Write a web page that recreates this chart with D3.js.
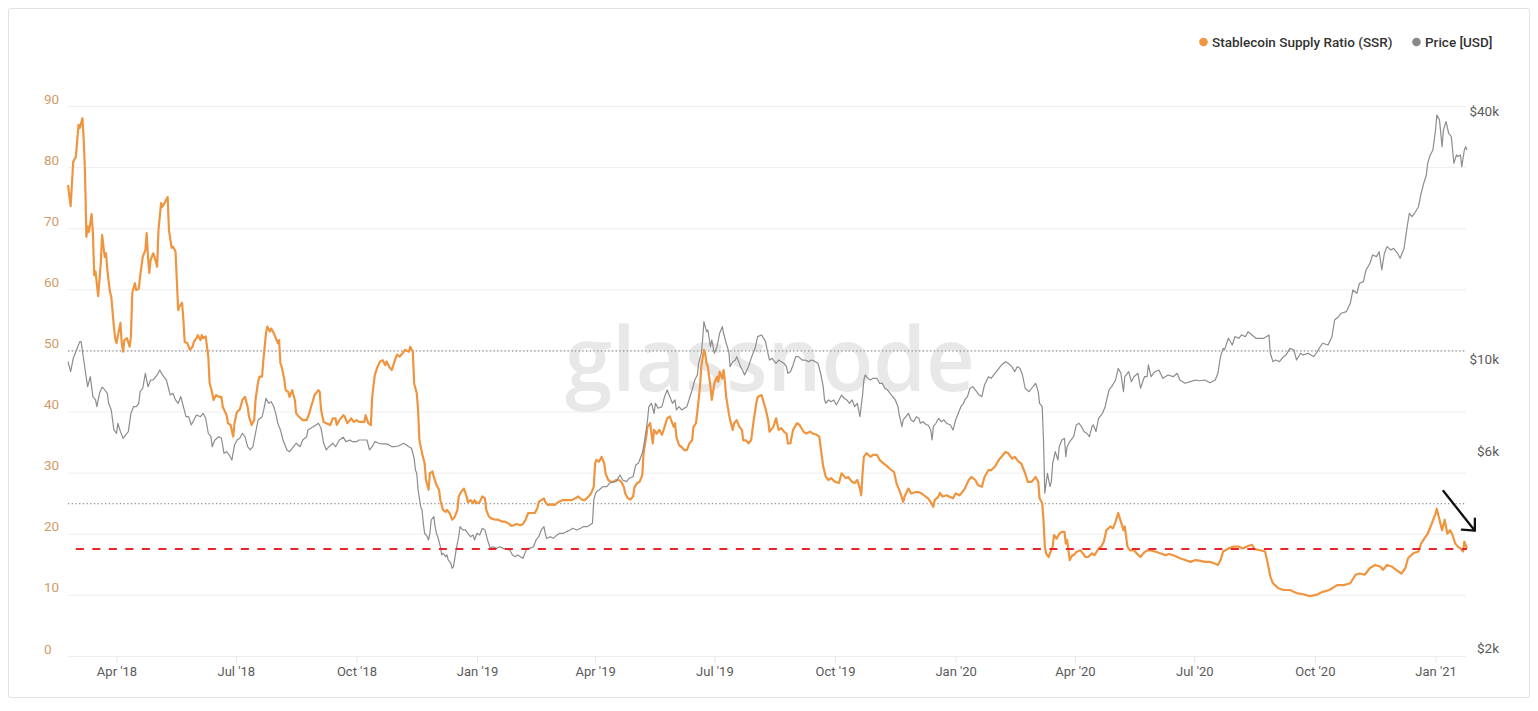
<!DOCTYPE html>
<html><head><meta charset="utf-8">
<script src="https://cdn.jsdelivr.net/npm/d3@7"></script>
<style>html,body{margin:0;padding:0;background:#fff;}svg{display:block;}</style>
</head><body>
<svg id="chart" width="1538" height="711"></svg>
<script>
// Days are counted from 23 Feb 2018 (UTC), as read against the chart's time axis
const startDateUTC = Date.UTC(2018, 1, 23);
const endDay = 1067;

// Stablecoin Supply Ratio: [day, value]
const ssrSeries = [[0,77.1],[2,73.6],[4,80.9],[6,81.7],[8,86.9],[9,86.4],[11,88.0],[12,84.4],[13,79.0],[14,68.6],[15,70.3],[16,69.4],[18,72.3],[19,69.2],[20,62.3],[21,62.9],[23,58.9],[25,64.3],[26,68.9],[28,65.3],[29,65.9],[30,63.2],[32,59.6],[33,58.8],[35,53.9],[36,52.0],[37,51.2],[38,52.3],[40,54.5],[41,51.2],[42,49.8],[43,51.7],[45,52.0],[47,50.6],[48,52.3],[49,59.4],[51,61.0],[52,59.9],[54,60.1],[55,62.1],[57,65.3],[59,66.4],[60,69.2],[61,65.3],[62,62.7],[63,64.8],[65,65.9],[66,65.3],[68,63.7],[69,69.7],[71,74.1],[72,73.5],[74,74.3],[76,75.1],[77,69.7],[79,66.8],[80,67.0],[82,66.2],[83,61.5],[84,56.6],[85,57.2],[87,57.8],[88,55.0],[89,51.4],
[91,51.2],[93,50.1],[95,50.6],[96,51.4],[98,52.0],[99,52.5],[101,51.7],[102,52.5],[103,52.0],[105,52.3],[107,49.0],[108,44.7],[110,43.0],[111,41.9],[113,42.7],[115,42.4],[117,42.4],[118,40.8],[121,39.4],[122,38.1],[124,37.8],[126,35.9],[127,38.1],[128,39.2],[129,40.0],[131,40.3],[133,41.9],[135,42.4],[137,40.8],[138,39.2],[140,37.8],[142,38.6],[143,41.9],[145,44.9],[146,45.7],[148,45.7],[149,48.4],[151,52.8],[152,53.9],[154,53.1],[155,53.6],[157,52.8],[158,52.3],[160,51.2],[161,51.7],[162,47.9],[163,47.3],[165,45.2],[166,43.5],[168,43.2],[169,42.4],[171,43.5],[173,41.9],[174,39.7],[176,39.2],[179,38.6],[182,38.6],[184,39.7],[185,40.5],[187,41.9],[188,42.7],[191,43.5],[192,43.2],[193,40.3],[195,38.3],[197,38.1],[200,37.8],[202,38.9],[204,38.9],[205,37.8],[207,38.6],[210,39.4],[211,39.2],[213,38.1],[215,38.6],[216,38.9],[218,38.3],[220,38.6],[222,38.3],[224,38.3],[226,38.3],[227,39.4],[229,38.1],[231,37.8],[232,42.4],[234,46.0],[236,47.3],[238,48.2],[240,48.4],[242,47.6],[243,48.2],[245,47.3],[247,46.8],[249,48.2],[251,49.3],[253,49.0],[255,49.5],[257,50.1],[260,49.8],[261,50.6],[263,49.8],[264,44.6],[266,43.0],[267,40.3],[268,35.3],[270,33.2],[272,31.5],
[273,28.8],[275,27.2],[276,29.9],[278,30.2],[279,29.3],[281,28.0],[283,27.2],[284,25.5],[286,23.9],[288,23.6],[289,23.9],[291,23.4],[293,22.3],[295,22.8],[297,23.9],[298,26.1],[300,26.9],[302,27.4],[304,26.1],[305,25.2],[307,25.5],[309,25.0],[310,25.5],[312,25.0],[314,25.2],[316,26.1],[318,25.8],[319,23.9],[321,22.8],[323,22.5],[326,22.3],[328,22.3],[331,22.0],[333,22.0],[336,21.7],[338,21.3],[340,21.4],[342,21.6],[345,21.4],[347,21.6],[349,22.3],[351,23.4],[354,23.4],[356,23.4],[358,24.2],[359,25.2],[361,25.5],[363,25.8],[364,25.2],[366,24.7],[369,24.8],[371,24.7],[374,25.2],[377,25.5],[379,25.5],[382,25.5],[384,25.5],[387,25.8],[389,26.1],[392,25.6],[394,25.5],[397,26.1],[399,26.6],[401,27.7],[402,31.5],[403,32.1],[405,31.8],[407,32.6],[409,31.5],[410,29.9],[412,28.8],[414,28.5],[416,28.5],[418,28.8],[420,28.8],[422,28.5],[424,27.6],[425,26.6],[427,25.8],[429,25.6],[431,26.1],[432,27.6],[434,28.3],[436,28.5],[438,29.6],[439,33.2],[441,35.9],[442,37.5],[444,38.1],[446,34.8],[447,37.0],[449,36.4],[451,37.0],[453,36.2],
[455,37.5],[457,38.9],[459,39.2],[460,38.6],[462,37.5],[463,38.1],[464,35.9],[466,34.5],[468,34.2],[470,33.7],[472,33.7],[474,34.8],[476,35.3],[477,37.5],[479,38.1],[481,41.9],[482,44.1],[483,47.3],[485,50.1],[486,49.5],[487,47.9],[488,47.3],[490,44.1],[491,41.9],[493,44.6],[495,45.7],[496,44.9],[497,46.5],[499,45.4],[500,46.8],[501,44.9],[502,42.4],[504,39.7],[505,38.6],[507,37.0],[508,38.1],[510,38.6],[512,37.5],[514,37.0],[515,35.3],[517,35.3],[519,34.8],[521,35.3],[523,38.6],[525,41.4],[526,42.4],[529,42.7],[530,41.9],[532,40.5],[534,38.6],[535,36.7],[538,37.5],[540,38.9],[542,37.0],[544,37.3],[546,36.7],[548,36.4],[549,34.8],[551,34.8],[553,37.0],[556,38.1],[558,37.8],[561,36.7],[563,36.4],[566,36.7],[568,36.4],[571,36.2],[573,35.9],[574,34.2],[576,31.0],[578,29.3],[580,28.8],[582,29.1],[585,28.5],[588,28.3],[590,29.9],[593,29.1],[595,29.3],[598,28.5],[600,28.3],[602,28.8],[604,27.4],[605,26.3],[606,29.9],[607,32.6],[609,33.2],[612,32.6],[614,32.9],[617,32.9],[619,32.1],[622,31.5],[624,31.2],[627,30.6],[630,30.1],[632,28.2],[635,26.6],
[637,25.2],[638,26.1],[641,27.4],[643,26.6],[646,26.8],[649,26.8],[651,26.6],[654,26.1],[656,25.8],[658,25.2],[660,24.4],[661,25.5],[664,26.1],[665,26.7],[667,26.1],[670,26.3],[672,26.1],[675,25.8],[677,26.6],[680,26.3],[682,26.8],[684,27.4],[687,28.8],[689,29.3],[692,28.8],[694,28.0],[697,27.7],[699,29.3],[702,30.4],[704,30.4],[707,31.0],[710,32.1],[712,32.6],[715,33.4],[717,33.2],[720,32.3],[722,32.6],[725,31.8],[727,31.5],[730,29.9],[732,28.5],[735,28.5],[738,29.3],[740,28.5],[741,25.8],[743,25.0],[744,22.3],[745,17.9],[746,16.8],[748,16.2],[749,16.8],[751,17.9],[752,19.8],[754,19.2],[756,20.0],[758,20.3],[760,20.3],[761,18.4],[762,19.0],[764,15.7],[766,16.5],[767,16.5],[769,17.0],[772,17.3],[774,16.8],[776,16.2],[778,16.2],[781,16.8],[783,16.5],[786,17.6],[788,17.9],[790,18.7],[792,20.6],[795,21.2],[797,20.9],[799,22.0],[801,23.4],[803,22.0],[805,20.6],[806,21.2],[808,17.9],[810,17.3],[813,17.3],[815,16.8],[818,16.2],
[820,16.8],[823,17.3],[825,17.3],[829,17.1],[833,16.8],[837,16.5],[840,16.7],[844,16.4],[848,16.0],[852,15.7],[856,15.4],[860,15.7],[863,15.6],[867,15.4],[871,15.4],[875,15.1],[877,14.9],[879,15.7],[881,17.1],[885,17.6],[889,17.9],[893,17.9],[896,17.6],[900,18.0],[903,18.2],[905,17.5],[909,17.3],[913,17.1],[915,15.2],[917,13.0],[919,11.9],[923,11.1],[927,10.8],[932,10.8],[937,10.3],[942,10.1],[947,9.8],[952,10.0],[957,10.5],[962,10.8],[968,11.6],[973,11.6],[978,11.9],[982,13.3],[985,13.5],[989,13.3],[993,14.4],[997,14.9],
[1001,14.6],[1003,14.1],[1006,14.9],[1010,14.6],[1013,14.1],[1017,13.5],[1020,14.4],[1022,16.0],[1026,16.8],[1030,17.1],[1032,18.4],[1035,19.4],[1037,20.0],[1040,21.6],[1043,23.3],[1044,24.1],[1046,22.3],[1048,20.6],[1050,22.3],[1052,20.0],[1054,20.6],[1056,19.8],[1058,18.4],[1060,17.9],[1062,17.6],[1064,17.1],[1065,18.7],[1067,17.6]];

// BTC price in USD: [day, value]
const priceSeries = [[0,10290],[2,9728],[4,10480],[5,10680],[7,11080],[9,11500],[10,11500],[12,10380],[14,9376],[15,8948],[17,9460],[19,8462],[21,8308],[22,8004],[24,8624],[26,8918],[27,8870],[30,8624],[31,8156],[33,7858],[35,7030],[37,6902],[38,7298],[40,6964],[42,6712],[44,6836],[46,6964],[48,7714],[50,8004],[52,8004],[54,8156],[55,8702],[57,8870],[59,9642],[61,8948],[63,9288],[65,9288],[68,9550],[70,9822],[72,9550],[75,9288],[77,8784],[78,8542],[80,8624],[82,8308],[84,8156],[86,8462],[88,8004],[90,7570],
[92,7570],[94,7228],[96,7432],[98,7642],[101,7570],[103,7714],[105,7502],[107,6902],[109,6772],[110,6404],[112,6648],[115,6772],[117,6712],[119,6172],[121,6228],[123,6114],[125,5946],[127,6466],[129,6648],[131,6712],[133,6902],[135,6772],[137,6404],[139,6288],[141,6404],[143,6902],[145,7432],[148,7570],[149,7784],[151,8388],[153,8156],[155,8230],[157,8004],[159,7570],[160,7298],[162,7030],[164,6648],[166,6404],[167,6288],[169,6228],[172,6404],[174,6528],[177,6404],[179,6648],[182,6772],[183,7030],[185,7096],[187,7160],[189,7228],[191,7298],[193,7096],[195,6528],[197,6288],[199,6404],[202,6528],[204,6404],[207,6648],[210,6750],[212,6586],[215,6648],[217,6586],[220,6586],[222,6648],[225,6648],[228,6648],[230,6288],[232,6404],[234,6586],[237,6528],[239,6502],[242,6502],[244,6490],[247,6404],[249,6404],[252,6430],[256,6528],[260,6404],[262,6348],[264,6002],[265,5624],[266,5522],[267,5030],[269,4584],[270,4500],[271,4178],[272,3952],
[274,3878],[275,3808],[276,3952],[277,4256],[279,4336],[280,4100],[281,3952],[282,3878],[284,3668],[285,3502],[286,3536],[288,3470],[289,3502],[290,3406],[292,3344],[293,3252],[294,3282],[296,3600],[297,3738],[298,3878],[299,4100],[301,4026],[303,4026],[305,3952],[307,3878],[309,3914],[310,3808],[312,3952],[314,3914],[316,4064],[318,4026],[320,3808],[322,3634],[324,3668],[327,3634],[329,3668],[332,3634],[335,3614],[337,3600],[339,3502],[341,3470],[343,3502],[345,3470],[347,3438],[349,3568],[350,3634],[352,3634],[355,3668],[357,3808],[359,3878],[361,4026],[363,4100],[364,3952],[365,3842],[368,3878],[370,3842],[373,3914],[375,3952],[378,3952],[380,3988],[383,4026],[385,4064],[388,4026],[391,4064],[393,4100],[396,4100],[398,4140],[400,4178],[401,4758],[402,4894],[403,4984],[405,5030],[408,5126],[411,5126],[413,5224],[416,5270],[418,5270],[421,5470],[423,5320],[426,5270],[428,5370],[431,5418],[433,5782],[435,5838],[438,6172],[439,6404],[441,7030],[442,7432],[443,8004],[445,8156],[447,7714],[448,8156],[450,7932],[453,8004],
[455,8462],[457,8784],[459,8462],[461,8156],[463,8308],[464,7858],[466,8004],[468,7858],[470,7932],[472,8004],[474,8388],[476,8784],[478,9288],[480,9550],[481,10194],[483,10778],[484,11606],[485,12854],[487,12158],[488,12274],[490,11182],[491,11606],[493,10778],[495,11182],[497,12052],[499,12502],[500,12052],[502,11398],[504,10876],[505,10004],[507,10286],[509,10380],[510,10578],[513,10004],[515,9728],[516,9550],[519,10004],[521,10480],[524,11080],[526,11824],[529,11936],[532,11500],[533,11080],[535,10380],[537,10480],[540,10194],[542,10380],[544,10286],[546,10194],[548,10004],[549,9642],[551,9728],[553,10100],[555,10578],[557,10578],[560,10380],[562,10380],[565,10286],[567,10380],[570,10286],[572,10194],[574,9642],[576,8948],[577,8308],[578,8156],[580,8308],[582,8230],[584,8308],[586,8082],[588,8308],[590,8542],[592,8388],[594,8308],[596,8156],[598,8308],[600,8004],[602,8156],[603,7858],[604,7570],[606,8542],[607,9288],[608,9550],[610,9376],[612,9288],[614,9376],[617,9376],[619,9118],[621,9118],[623,8870],[625,8784],[627,8624],[629,8462],[631,8308],[633,8004],[634,7642],[636,7160],
[637,7432],[639,7570],[641,7714],[643,7432],[645,7362],[647,7570],[649,7502],[650,7298],[652,7362],[655,7228],[656,7228],[658,7030],[659,6648],[660,7160],[662,7298],[664,7502],[666,7362],[668,7432],[670,7298],[673,7228],[675,7030],[677,7432],[679,7714],[681,8004],[683,8156],[684,8308],[686,8462],[688,8870],[690,8948],[692,8784],[695,8542],[697,8462],[699,9032],[702,9460],[704,9376],[707,9642],[710,9914],[712,10100],[715,10286],[717,10194],[720,10004],[722,9728],[724,10004],[726,9914],[728,9550],[730,8870],[733,8702],[735,8870],[738,9118],[740,8702],[741,8156],[743,8004],[744,6648],[745,4940],[746,5224],[747,5522],[749,5126],[750,5270],[751,5838],[753,6228],[755,5946],[756,6404],[758,6648],[760,6712],[761,6058],[762,6404],[764,6586],[767,6772],[769,7228],[771,7298],[773,7160],[775,6964],[777,6902],[779,6772],[781,7160],[782,7228],[784,6964],[786,7502],[789,7714],[791,8004],[794,8784],[796,8948],[799,9288],[801,9914],[803,9642],[805,8702],[806,9460],[809,9728],[811,9200],[813,9460],[816,9642],[818,8870],
[821,9460],[823,9460],[824,10100],[826,9460],[829,9728],[832,9822],[835,9376],[839,9550],[843,9460],[846,9642],[848,9288],[852,9118],[856,9200],[860,9288],[863,9250],[867,9288],[871,9148],[875,9288],[877,9642],[879,10578],[881,11080],[882,10978],[885,11718],[888,11288],[890,11824],[893,11718],[895,11936],[898,11824],[900,12158],[903,11936],[906,11718],[909,11718],[912,11718],[916,11936],[917,10778],[919,10286],[921,10380],[924,10286],[927,10578],[929,10680],[932,11080],[935,10978],[937,10380],[940,10778],[942,10680],[946,10778],[950,10578],[952,10778],[955,11182],[957,11398],[961,11288],[964,11824],[966,12976],[969,13218],[971,13472],[975,13590],[978,14242],[980,15340],[983,15060],[985,15924],[988,16066],[990,17150],[993,17800],[995,18644],[998,18470],[1000,18990],
[1002,17150],[1004,18820],[1006,19528],[1009,19170],[1011,19352],[1014,18820],[1016,18304],[1019,19352],[1021,21440],[1023,23520],[1025,23080],[1027,23520],[1030,24400],[1032,26300],[1034,27800],[1036,29120],[1037,31080],[1039,32560],[1041,33480],[1043,37420],[1044,40680],[1046,39580],[1048,34100],[1049,37420],[1051,39200],[1053,36740],[1055,36060],[1057,31080],[1059,32560],[1060,32260],[1062,32560],[1063,30500],[1065,33480],[1066,34100],[1067,33480]];

const ssrTicks = [0, 10, 20, 30, 40, 50, 60, 70, 80, 90];
const priceTicks = [2000, 6000, 10000, 40000];
const priceTickLabels = ["$2k", "$6k", "$10k", "$40k"];
const dottedLevels = [50, 25];
const ssrReferenceLevel = 17.5;
const legendLabels = ["Stablecoin Supply Ratio (SSR)", "Price [USD]"];
const watermarkText = "glassnode";
const arrowFrom = [1049, 27.0];   // [day, ssr]
const arrowTo = [1073, 20.5];

const C = {orange: "#f0953f", gray: "#8d8d8d", grid: "#eeeeee", leftText: "#d19b68", text: "#5a5a5a"};
const toDate = d => new Date(startDateUTC + d * 864e5);

const svg = d3.select("#chart");
svg.append("rect").attr("width", 1538).attr("height", 711).attr("fill", "#fff");
svg.append("rect").attr("x", 8.5).attr("y", 8.5).attr("width", 1521).attr("height", 689)
  .attr("rx", 2).attr("fill", "none").attr("stroke", "#e2e2e2");

const x = d3.scaleUtc().domain([toDate(0), toDate(endDay)]).range([68, 1467]);
const y = d3.scaleLinear().domain([0, 90]).range([656, 106]);
const yP = d3.scaleLog().domain([2000, 40000]).range([655.5, 118]);

// gridlines
svg.append("g").selectAll("line").data(ssrTicks).join("line")
  .attr("x1", 68).attr("x2", 1466).attr("y1", d => y(d) + 0.5).attr("y2", d => y(d) + 0.5)
  .attr("stroke", C.grid).attr("stroke-width", 1);

// watermark
svg.append("text").attr("x", 770).attr("y", 391).attr("text-anchor", "middle")
  .attr("font-family", "'Open Sans', sans-serif").attr("font-size", 88).attr("font-weight", 600)
  .attr("fill", "#e8e8e8").attr("textLength", 410).attr("lengthAdjust", "spacingAndGlyphs")
  .text(watermarkText);

// dotted levels
svg.append("g").selectAll("line").data(dottedLevels).join("line")
  .attr("x1", 68).attr("x2", 1466).attr("y1", d => y(d) + 0.5).attr("y2", d => y(d) + 0.5)
  .attr("stroke", "#777").attr("stroke-width", 1).attr("stroke-dasharray", "1.3,2.4");

// left axis labels
svg.append("g").selectAll("text").data(ssrTicks).join("text")
  .attr("x", 44).attr("y", d => y(d) - 6).attr("dominant-baseline", "middle")
  .attr("font-family", "Roboto, sans-serif").attr("font-size", 13.5).attr("fill", C.leftText)
  .text(d => d);

// right axis labels
svg.append("g").selectAll("text").data(priceTicks).join("text")
  .attr("x", 1499).attr("y", d => yP(d) - 6).attr("dominant-baseline", "middle").attr("text-anchor", "end")
  .attr("font-family", "Roboto, sans-serif").attr("font-size", 13.5).attr("fill", C.text)
  .text((d, i) => priceTickLabels[i]);

// x axis
const xAxis = svg.append("g").attr("transform", "translate(0,656)")
  .call(d3.axisBottom(x).ticks(d3.utcMonth.every(3)).tickFormat(d3.utcFormat("%b '%y")).tickSize(7).tickPadding(4));
xAxis.select(".domain").remove();
xAxis.selectAll(".tick line").attr("stroke", "#e6e6e6");
xAxis.selectAll(".tick text").attr("font-family", "Roboto, sans-serif").attr("font-size", 13).attr("fill", C.text);

// series
const ssrLine = d3.line().x(d => x(toDate(d[0]))).y(d => y(d[1]));
const priceLine = d3.line().x(d => x(toDate(d[0]))).y(d => yP(d[1]));
svg.append("path").datum(ssrSeries).attr("d", ssrLine).attr("fill", "none")
  .attr("stroke", C.orange).attr("stroke-width", 2.2).attr("stroke-linejoin", "round");
svg.append("path").datum(priceSeries).attr("d", priceLine).attr("fill", "none")
  .attr("stroke", C.gray).attr("stroke-width", 1.2).attr("stroke-linejoin", "round");

// reference line
svg.append("line").attr("x1", x(toDate(6))).attr("x2", x(toDate(endDay)))
  .attr("y1", y(ssrReferenceLevel)).attr("y2", y(ssrReferenceLevel))
  .attr("stroke", "#e8252b").attr("stroke-width", 2).attr("stroke-dasharray", "8,8.5");

// arrow annotation
const ax1 = x(toDate(arrowFrom[0])), ay1 = y(arrowFrom[1]);
const ax2 = x(toDate(arrowTo[0])), ay2 = y(arrowTo[1]);
svg.append("path").attr("d", `M${ax1},${ay1}L${ax2},${ay2}M${ax2 - 13},${ay2 - 1}L${ax2},${ay2}L${ax2},${ay2 - 12}`)
  .attr("fill", "none").attr("stroke", "#111").attr("stroke-width", 2.3).attr("stroke-linecap", "round").attr("stroke-linejoin", "round");

// legend
const legend = svg.append("g");
const lg = [{x: 1203.5, c: C.orange, t: legendLabels[0]}, {x: 1416.5, c: "#888", t: legendLabels[1]}];
lg.forEach(l => {
  legend.append("circle").attr("cx", l.x).attr("cy", 42).attr("r", 4.3).attr("fill", l.c);
  legend.append("text").attr("x", l.x + 8.5).attr("y", 42).attr("dominant-baseline", "central")
    .attr("font-family", "Roboto, sans-serif").attr("font-size", 13.5).attr("font-weight", 500).attr("fill", "#333")
    .text(l.t);
});
</script>
</body></html>
